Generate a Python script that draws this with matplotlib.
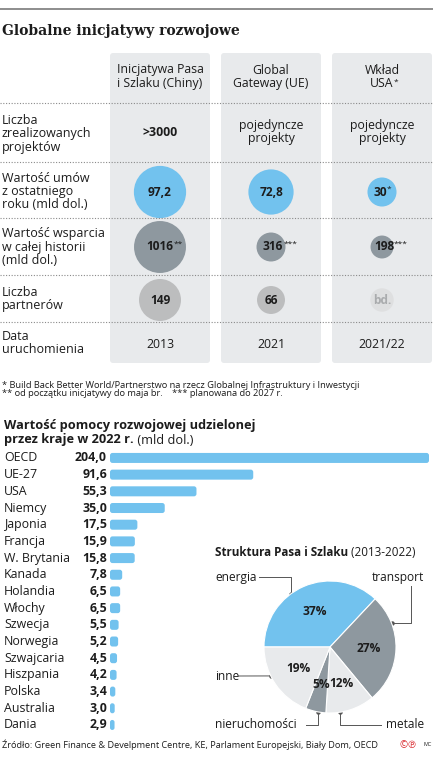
import numpy as np
import matplotlib
matplotlib.use("Agg")
import matplotlib.pyplot as plt
from matplotlib.patches import Circle, FancyBboxPatch
from matplotlib.transforms import blended_transform_factory

plt.rcParams['font.family'] = ['Open Sans', 'DejaVu Sans']

# ---- data: table ----
columns = [["Inicjatywa Pasa", "i Szlaku (Chiny)"], ["Global", "Gateway (UE)"], ["Wkład", "USA"]]
column_marks = ["", "", "*"]
row_labels = ["Liczba\nzrealizowanych\nprojektów",
              "Wartość umów\nz ostatniego\nroku (mld dol.)",
              "Wartość wsparcia\nw całej historii\n(mld dol.)",
              "Liczba\npartnerów",
              "Data\nuruchomienia"]
projects = [">3000", "pojedyncze\nprojekty", "pojedyncze\nprojekty"]
deals = [97.2, 72.8, 30]
deals_marks = ["", "", "*"]
support = [1016, 316, 198]
support_marks = ["**", "***", "***"]
partners = [149, 66, None]
launch = ["2013", "2021", "2021/22"]

# ---- data: bars ----
countries = ["OECD", "UE-27", "USA", "Niemcy", "Japonia", "Francja", "W. Brytania",
             "Kanada", "Holandia", "Włochy", "Szwecja", "Norwegia", "Szwajcaria",
             "Hiszpania", "Polska", "Australia", "Dania"]
aid = [204.0, 91.6, 55.3, 35.0, 17.5, 15.9, 15.8, 7.8, 6.5, 6.5, 5.5, 5.2, 4.5,
       4.2, 3.4, 3.0, 2.9]

# ---- data: pie ----
sectors = ["energia", "transport", "metale", "nieruchomości", "inne"]
shares = [37, 27, 12, 5, 19]

BLUE = "#72c2ee"
GREY = "#8e989f"
LGREY = "#bcbdbe"
BOX = "#e8eaec"
TXT = "#1c1c1c"

W, H = 433, 760
fig = plt.figure(figsize=(W / 100, H / 100), dpi=100)
base = fig.add_axes([0, 0, 1, 1])
base.set_xlim(0, W)
base.set_ylim(H, 0)
base.axis('off')

def fmt(v):
    return f"{v:.1f}".replace(".", ",")

# top rule and title
base.plot([0, W], [9, 9], color="#7a7a7a", lw=1.2)
base.text(2, 31, "Globalne inicjatywy rozwojowe", family="DejaVu Serif",
          weight="bold", fontsize=10, color=TXT, va="center", ha="left")

# column boxes
col_x = [160, 271, 382]
for cx in col_x:
    base.add_patch(FancyBboxPatch((cx - 50 + 3, 53 + 3), 100 - 6, 310 - 6,
                                  boxstyle="round,pad=3", fc=BOX, ec="none"))

# headers
for cx, lines, mark in zip(col_x, columns, column_marks):
    base.text(cx, 70, lines[0], ha="center", va="center", fontsize=8.8, color=TXT)
    t = base.text(cx, 83.5, lines[1], ha="center", va="center", fontsize=8.8, color=TXT)
    if mark:
        base.annotate(mark, xy=(1, 0.9), xycoords=t, ha="left", va="top",
                      fontsize=6, color=TXT)

# dotted row separators
for y in [103, 162, 218, 275, 322]:
    base.plot([0, W], [y, y], color="#8a8a8a", lw=0.8, ls=(0, (1, 1.5)))

# row labels
label_y = [134, 192, 247, 299, 343]
for y, lab in zip(label_y, row_labels):
    base.text(2, y, lab, ha="left", va="center", fontsize=9, color=TXT,
              linespacing=1.0)

# row 1: projects
for cx, p in zip(col_x, projects):
    bold = p.startswith(">")
    base.text(cx, 132, p, ha="center", va="center", fontsize=8.8,
              weight="bold" if bold else "normal", color=TXT, linespacing=1.0)

def bubble(cx, cy, r, color, label, mark, tcolor=TXT, dx=0):
    base.add_patch(Circle((cx, cy), r, fc=color, ec="none"))
    t = base.text(cx + dx, cy, label, ha="center", va="center", fontsize=8.6,
                  weight="bold", color=tcolor)
    if mark:
        base.annotate(mark, xy=(1, 0.95), xycoords=t, ha="left", va="top",
                      fontsize=6, color=TXT)

# row 2: deals (area scaled)
for cx, v, m in zip(col_x, deals, deals_marks):
    lab = fmt(v) if v != int(v) else str(int(v))
    bubble(cx, 192, 2.65 * np.sqrt(v), BLUE, lab, m, dx=-2 if m else 0)

# row 3: total support
for cx, v, m in zip(col_x, support, support_marks):
    bubble(cx, 247, 0.815 * np.sqrt(v), GREY, str(v), m, dx=0 if len(m) == 2 else 2)

# row 4: partners
for cx, v in zip(col_x, partners):
    if v is None:
        bubble(cx, 300, 11.7, "#dedfe0", "bd.", "", tcolor="#a9abad")
    else:
        bubble(cx, 300, 1.72 * np.sqrt(v), LGREY, str(v), "")

# row 5: launch dates
for cx, d in zip(col_x, launch):
    base.text(cx, 344, d, ha="center", va="center", fontsize=8.8, color=TXT)

# footnotes
base.text(2, 385, "* Build Back Better World/Partnerstwo na rzecz Globalnej Infrastruktury i Inwestycji",
          fontsize=6.7, color=TXT, va="center", ha="left")
base.text(2, 394, "** od początku inicjatywy do maja br.    *** planowana do 2027 r.",
          fontsize=6.7, color=TXT, va="center", ha="left")

# bar chart title
base.text(4, 425, "Wartość pomocy rozwojowej udzielonej", fontsize=9.2,
          weight="bold", color=TXT, va="center", ha="left")
t = base.text(4, 440, "przez kraje w 2022 r.", fontsize=9.2,
              weight="bold", color=TXT, va="center", ha="left")
base.annotate(" (mld dol.)", xy=(1, 0.5), xycoords=t, ha="left", va="center",
              fontsize=9.2, color=TXT)

# ---- bar chart ----
bar_top, bar_bot = 449.6, 733.3
axb = fig.add_axes([110 / W, (H - bar_bot) / H, 323 / W, (bar_bot - bar_top) / H])
ypos = np.arange(len(countries))
bars = axb.barh(ypos, aid, height=0.6, color=BLUE)
axb.set_xlim(0, 323 / 1.5637)
axb.set_ylim(len(countries) - 0.5, -0.5)
axb.axis('off')
# round the bar corners
xpx = 1.5637
ypx = (bar_bot - bar_top) / len(countries)
for b in bars:
    rs = min(2.5, b.get_width() * xpx / 2) / xpx
    p = FancyBboxPatch((b.get_x(), b.get_y()), b.get_width(), b.get_height(),
                       boxstyle=f"round,pad=0,rounding_size={rs}",
                       mutation_aspect=xpx / ypx, fc=BLUE, ec="none")
    axb.add_patch(p)
    b.set_visible(False)

tr = blended_transform_factory(base.transData, axb.transData)
for y, c, v in zip(ypos, countries, aid):
    axb.text(4, y, c, transform=tr, ha="left", va="center", fontsize=8.9,
             color=TXT, clip_on=False)
    axb.text(107, y, fmt(v), transform=tr, ha="right", va="center", fontsize=8.9,
             weight="bold", color=TXT, clip_on=False)

# ---- pie ----
pcx, pcy, R = 330, 647, 66
axp = fig.add_axes([(pcx - R) / W, (H - pcy - R) / H, 2 * R / W, 2 * R / H])
wedges, _, autotexts = axp.pie(shares, startangle=180, counterclock=False,
                               colors=[BLUE, GREY, BOX, GREY, BOX],
                               wedgeprops=dict(ec="white", lw=0.8),
                               autopct="%d%%", pctdistance=0.58)
for a in autotexts:
    a.set_fontsize(8.6)
    a.set_fontweight("bold")
    a.set_color(TXT)
axp.set_xlim(-1, 1)
axp.set_ylim(-1, 1)
for w in wedges:
    w.set_clip_on(False)

t = base.text(215, 553, "Struktura Pasa i Szlaku", fontsize=8.4, weight="bold",
              color=TXT, va="center", ha="left")
base.annotate(" (2013-2022)", xy=(1, 0.5), xycoords=t, ha="left", va="center",
              fontsize=8.4, color=TXT)

def edge(ang):
    a = np.deg2rad(ang)
    return pcx + R * np.cos(a), pcy - R * np.sin(a)

LC = "#555555"
FS = 8.6
# energia
ex, ey = edge(126.5)
base.text(215, 577, sectors[0], fontsize=FS, color=TXT, va="center", ha="left")
base.plot([259, ex, ex], [577, 577, ey], color=LC, lw=0.7)
# transport
tx, ty = edge(21)
base.text(424, 577, sectors[1], fontsize=FS, color=TXT, va="center", ha="right")
base.plot([411, 411, tx], [586, ty, ty], color=LC, lw=0.7)
# inne
ix, iy = edge(-154)
base.text(215, 676, sectors[4], fontsize=FS, color=TXT, va="center", ha="left")
base.plot([239, ix], [676, iy], color=LC, lw=0.7)
# nieruchomości
nx, ny = edge(-100.5)
base.text(215, 725, sectors[3], fontsize=FS, color=TXT, va="center", ha="left")
base.plot([306, nx, nx], [725, 725, ny], color=LC, lw=0.7)
# metale
mx, my = edge(-81)
base.text(424, 725, sectors[2], fontsize=FS, color=TXT, va="center", ha="right")
base.plot([381, mx, mx], [725, 725, my], color=LC, lw=0.7)
for x, y in [(ex, ey), (tx, ty), (ix, iy), (nx, ny), (mx, my)]:
    base.plot(x, y, "o", ms=2.2, color=LC)

# footer
base.text(2, 745, "Źródło: Green Finance & Develpment Centre, KE, Parlament Europejski, Biały Dom, OECD",
          fontsize=6.6, color=TXT, va="center", ha="left")
base.text(408, 745, "©℗", fontsize=7, color="#d9262b", va="center", ha="center")
base.text(428, 745, "MC", fontsize=4, color=TXT, va="center", ha="center")

fig.savefig("out.png", dpi=100)
